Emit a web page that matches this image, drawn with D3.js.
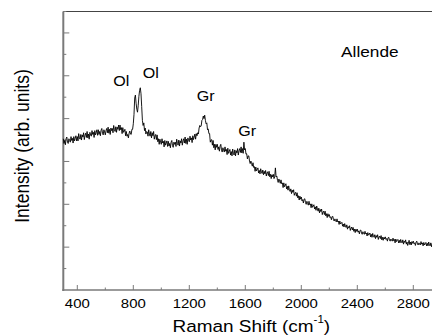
<!DOCTYPE html>
<html>
<head>
<meta charset="utf-8">
<script src="https://cdn.jsdelivr.net/npm/d3@7"></script>
<style>
  html, body { margin: 0; padding: 0; background: #fff; }
  svg { display: block; }
  text { font-family: "Liberation Sans", Arial, Helvetica, sans-serif; fill: #000; }
</style>
</head>
<body>
<svg id="chart" width="432" height="336"></svg>
<script>
// Raman spectrum of the Allende meteorite, sampled every 5 cm^-1 from 300 cm^-1
const shiftStart = 300;
const shiftStep = 5;
const intensity = [
  3.53, 3.42, 3.49, 3.39, 3.53, 3.57, 3.45, 3.42, 3.53, 3.49,
  3.45, 3.58, 3.49, 3.54, 3.43, 3.58, 3.48, 3.54, 3.60, 3.48,
  3.58, 3.48, 3.65, 3.55, 3.52, 3.63, 3.50, 3.62, 3.57, 3.67,
  3.51, 3.61, 3.66, 3.56, 3.70, 3.55, 3.64, 3.52, 3.68, 3.62,
  3.59, 3.72, 3.63, 3.68, 3.56, 3.72, 3.62, 3.67, 3.74, 3.61,
  3.74, 3.63, 3.70, 3.60, 3.73, 3.77, 3.66, 3.62, 3.74, 3.69,
  3.62, 3.72, 3.77, 3.67, 3.80, 3.66, 3.75, 3.63, 3.78, 3.72,
  3.77, 3.67, 3.84, 3.74, 3.70, 3.81, 3.68, 3.80, 3.75, 3.85,
  3.72, 3.85, 3.74, 3.79, 3.65, 3.79, 3.68, 3.71, 3.75, 3.60,
  3.70, 3.59, 3.63, 3.55, 3.66, 3.71, 3.64, 3.63, 3.75, 3.75,
  3.88, 4.10, 4.48, 4.55, 4.36, 4.22, 4.15, 4.30, 4.52, 4.66,
  4.72, 4.58, 4.28, 3.96, 3.84, 3.90, 3.72, 3.78, 3.64, 3.70,
  3.69, 3.59, 3.74, 3.64, 3.59, 3.70, 3.55, 3.67, 3.60, 3.70,
  3.52, 3.60, 3.63, 3.51, 3.62, 3.46, 3.53, 3.40, 3.52, 3.45,
  3.40, 3.53, 3.43, 3.47, 3.34, 3.49, 3.38, 3.43, 3.48, 3.35,
  3.47, 3.36, 3.42, 3.32, 3.45, 3.49, 3.37, 3.33, 3.45, 3.40,
  3.45, 3.35, 3.52, 3.42, 3.38, 3.50, 3.36, 3.48, 3.43, 3.53,
  3.38, 3.48, 3.53, 3.43, 3.57, 3.42, 3.52, 3.40, 3.55, 3.49,
  3.46, 3.59, 3.50, 3.55, 3.44, 3.60, 3.51, 3.57, 3.64, 3.52,
  3.65, 3.60, 3.67, 3.64, 3.78, 3.84, 3.81, 3.83, 3.96, 3.98,
  4.06, 4.00, 4.08, 3.96, 3.88, 3.90, 3.74, 3.76, 3.65, 3.65,
  3.45, 3.50, 3.51, 3.38, 3.49, 3.32, 3.40, 3.27, 3.40, 3.33,
  3.40, 3.28, 3.34, 3.24, 3.36, 3.40, 3.27, 3.22, 3.32, 3.27,
  3.22, 3.34, 3.24, 3.28, 3.16, 3.31, 3.19, 3.23, 3.28, 3.15,
  3.23, 3.13, 3.29, 3.19, 3.15, 3.27, 3.13, 3.25, 3.20, 3.30,
  3.15, 3.25, 3.30, 3.21, 3.34, 3.20, 3.30, 3.19, 3.45, 3.27,
  3.30, 3.17, 3.18, 3.06, 3.13, 3.13, 3.01, 2.95, 3.01, 2.95,
  2.89, 2.97, 2.86, 2.88, 2.77, 2.87, 2.78, 2.81, 2.85, 2.73,
  2.79, 2.71, 2.83, 2.75, 2.72, 2.80, 2.69, 2.77, 2.71, 2.79,
  2.66, 2.73, 2.76, 2.67, 2.77, 2.64, 2.70, 2.60, 2.69, 2.64,
  2.70, 2.60, 2.64, 2.85, 2.64, 2.66, 2.56, 2.51, 2.59, 2.54,
  2.49, 2.57, 2.48, 2.50, 2.39, 2.50, 2.41, 2.44, 2.48, 2.36,
  2.42, 2.33, 2.43, 2.34, 2.30, 2.36, 2.25, 2.33, 2.28, 2.34,
  2.21, 2.26, 2.28, 2.19, 2.27, 2.15, 2.20, 2.10, 2.19, 2.12,
  2.17, 2.08, 2.11, 2.03, 2.12, 2.13, 2.04, 2.00, 2.07, 2.02,
  1.98, 2.07, 1.99, 2.01, 1.92, 2.01, 1.93, 1.96, 1.99, 1.89,
  1.94, 1.86, 1.96, 1.89, 1.84, 1.91, 1.80, 1.88, 1.83, 1.89,
  1.76, 1.82, 1.84, 1.76, 1.84, 1.73, 1.78, 1.69, 1.78, 1.72,
  1.76, 1.69, 1.71, 1.64, 1.71, 1.72, 1.64, 1.61, 1.66, 1.62,
  1.59, 1.66, 1.59, 1.61, 1.53, 1.61, 1.54, 1.56, 1.58, 1.49,
  1.54, 1.47, 1.55, 1.49, 1.46, 1.52, 1.42, 1.48, 1.45, 1.50,
  1.39, 1.44, 1.47, 1.40, 1.46, 1.37, 1.42, 1.34, 1.42, 1.37,
  1.42, 1.35, 1.38, 1.31, 1.39, 1.40, 1.33, 1.30, 1.36, 1.32,
  1.30, 1.37, 1.31, 1.33, 1.26, 1.34, 1.28, 1.30, 1.33, 1.24,
  1.30, 1.23, 1.32, 1.25, 1.23, 1.29, 1.20, 1.27, 1.23, 1.29,
  1.18, 1.24, 1.26, 1.20, 1.27, 1.17, 1.23, 1.16, 1.23, 1.19,
  1.24, 1.18, 1.20, 1.14, 1.22, 1.23, 1.16, 1.14, 1.19, 1.16,
  1.14, 1.21, 1.15, 1.18, 1.10, 1.19, 1.13, 1.16, 1.18, 1.10,
  1.16, 1.10, 1.18, 1.12, 1.10, 1.17, 1.07, 1.14, 1.11, 1.17,
  1.07, 1.12, 1.04, 1.09, 1.16, 1.06, 1.12, 1.05, 1.13, 1.09,
  1.14, 1.08, 1.10, 1.04, 1.12, 1.14, 1.07, 1.05, 1.10, 1.07,
  1.05, 1.13, 1.07, 1.10, 1.03, 1.11, 1.05, 1.08, 1.11, 1.03,
  1.09, 1.03, 1.12, 1.05, 1.03, 1.10, 1.01, 1.08, 1.05, 1.11,
  1.01, 1.07, 1.09, 1.03, 1.10, 1.01, 1.07, 1.00, 1.08, 1.04
];

// Axis ticks
const xMajorTicks = [400, 800, 1200, 1600, 2000, 2400, 2800];
const xTickLabels = ["400", "800", "1200", "1600", "2000", "2400", "2800"];
const xMinorTicks = [600, 1000, 1400, 1800, 2200, 2600];
const yMajorTicks = [1, 2, 3, 4, 5, 6];
const yMinorTicks = [0.5, 1.5, 2.5, 3.5, 4.5, 5.5, 6.5];

// Peak annotations
const peakLabels = ["Ol", "Ol", "Gr", "Gr"];
const peakShift = [657, 867, 1253, 1550];
const peakLevel = [4.77, 4.95, 4.41, 3.59];
const sampleName = "Allende";

const svg = d3.select("#chart");
const x = d3.scaleLinear().domain([300, 3000]).range([63.3, 441.3]);
const y = d3.scaleLinear().domain([0, 6.5]).range([290, 11.5]);
const stretch = 1.15; // wide lettering

const points = intensity.map((v, i) => [shiftStart + i * shiftStep, v]);

// Frame: top border, left and bottom axes
const axisColor = "#7a7a7a";
svg.append("line")
  .attr("x1", x(300)).attr("x2", 432)
  .attr("y1", y(6.5)).attr("y2", y(6.5))
  .attr("stroke", "#444").attr("stroke-width", 1);

// Ticks point inward
const ticks = svg.append("g").attr("stroke", axisColor).attr("stroke-width", 1);
ticks.selectAll(".xmaj").data(xMajorTicks).join("line")
  .attr("x1", d => x(d)).attr("x2", d => x(d))
  .attr("y1", y(0)).attr("y2", y(0) - 5);
ticks.selectAll(".xmin").data(xMinorTicks).join("line")
  .attr("x1", d => x(d)).attr("x2", d => x(d))
  .attr("y1", y(0)).attr("y2", y(0) - 2.5);
ticks.selectAll(".ymaj").data(yMajorTicks).join("line")
  .attr("x1", x(300)).attr("x2", x(300) + 6)
  .attr("y1", d => y(d)).attr("y2", d => y(d));
ticks.selectAll(".ymin").data(yMinorTicks).join("line")
  .attr("x1", x(300)).attr("x2", x(300) + 3)
  .attr("y1", d => y(d)).attr("y2", d => y(d));

svg.append("line")
  .attr("x1", x(300)).attr("x2", x(300))
  .attr("y1", y(6.5)).attr("y2", y(0) + 1)
  .attr("stroke", axisColor).attr("stroke-width", 2);
svg.append("line")
  .attr("x1", x(300) - 1).attr("x2", 432)
  .attr("y1", y(0)).attr("y2", y(0))
  .attr("stroke", axisColor).attr("stroke-width", 1.5);

// Spectrum trace
const line = d3.line().x(d => x(d[0])).y(d => y(d[1]));
svg.append("path")
  .datum(points)
  .attr("fill", "none")
  .attr("stroke", "#000")
  .attr("stroke-width", 0.9)
  .attr("stroke-linejoin", "miter")
  .attr("d", line);

// Tick labels
svg.append("g").selectAll("g").data(xMajorTicks).join("g")
  .attr("transform", d => `translate(${x(d)},${y(0) + 17.5})`)
  .append("text")
  .attr("text-anchor", "middle")
  .attr("font-size", 13)
  .attr("transform", `scale(${stretch},1)`)
  .text((d, i) => xTickLabels[i]);

// Peak labels
svg.append("g").selectAll("g").data(peakLabels).join("g")
  .attr("transform", (d, i) => `translate(${x(peakShift[i])},${y(peakLevel[i])})`)
  .append("text")
  .attr("font-size", 14)
  .attr("transform", `scale(${stretch},1)`)
  .text(d => d);

svg.append("g")
  .attr("transform", `translate(${x(2284)},${y(5.43)})`)
  .append("text")
  .attr("font-size", 15)
  .attr("transform", `scale(${stretch},1)`)
  .text(sampleName);

// Axis titles
const xTitle = svg.append("g")
  .attr("transform", `translate(${(x(300) + x(3000)) / 2 - 1},331.5)`)
  .append("text")
  .attr("text-anchor", "middle")
  .attr("font-size", 16.5)
  .attr("transform", `scale(${stretch},1)`);
xTitle.append("tspan").text("Raman Shift (cm");
xTitle.append("tspan").attr("font-size", 10).attr("dy", -9).text("-1");
xTitle.append("tspan").attr("dy", 9).text(")");

svg.append("g")
  .attr("transform", `translate(29,146) scale(${stretch},1) rotate(-90)`)
  .append("text")
  .attr("text-anchor", "middle")
  .attr("font-size", 17.5)
  .text("Intensity (arb. units)");
</script>
</body>
</html>
